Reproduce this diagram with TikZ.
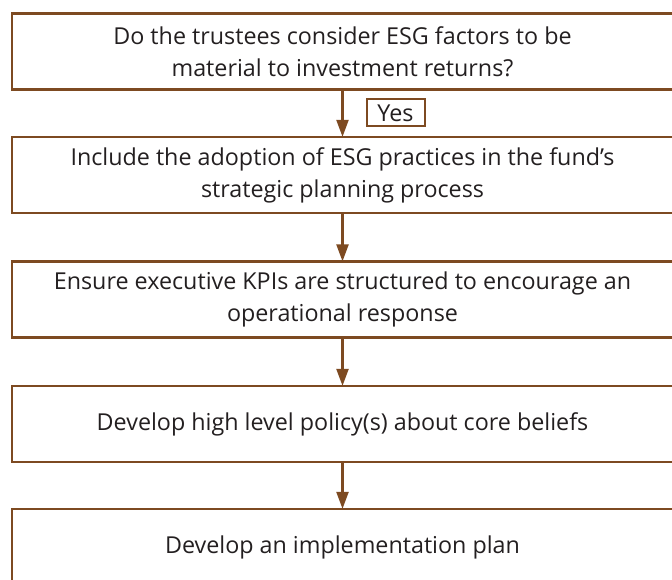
\documentclass[tikz,border=0pt]{standalone}
\usepackage{fontspec}
\setmainfont{Open Sans}
\usetikzlibrary{arrows.meta}
\definecolor{boxbrown}{RGB}{125,74,33}
\definecolor{inkgray}{RGB}{35,31,32}
\tikzset{
  stepbox/.style={draw=boxbrown, line width=2.3pt, rectangle, minimum width=661pt,
    minimum height=76pt, inner sep=0pt, align=center, text=inkgray,
    font=\fontsize{23.3}{32}\selectfont},
  flow/.style={draw=boxbrown, line width=2.3pt,
    -{Triangle[width=12pt,length=17pt]}, shorten >=-1pt},
  tag/.style={draw=boxbrown, line width=2pt, rectangle, minimum width=58pt,
    minimum height=27pt, inner sep=0pt, text=inkgray,
    font=\fontsize{23.3}{26}\selectfont}
}
\begin{document}
\begin{tikzpicture}[x=1pt,y=1pt]
  \useasboundingbox (0,0) rectangle (672,579);
  \clip (0,0) rectangle (672,579);
  \node[stepbox] (b1) at (342.5,527.5) {Do the trustees consider ESG factors to be\\material to investment returns?};
  \node[stepbox] (b2) at (342.5,404) {Include the adoption of ESG practices in the fund’s\\strategic planning process};
  \node[stepbox] (b3) at (342.5,279.5) {Ensure executive KPIs are structured to encourage an\\operational response};
  \node[stepbox] (b4) at (342.5,155) {Develop high level policy(s) about core beliefs};
  \node[stepbox] (b5) at (342.5,32) {Develop an implementation plan};
  \node[tag] (yes) at (395.5,466) {Yes};
  \draw[flow] (b1) -- (b2);
  \draw[flow] (b2) -- (b3);
  \draw[flow] (b3) -- (b4);
  \draw[flow] (b4) -- (b5);
\end{tikzpicture}
\end{document}
